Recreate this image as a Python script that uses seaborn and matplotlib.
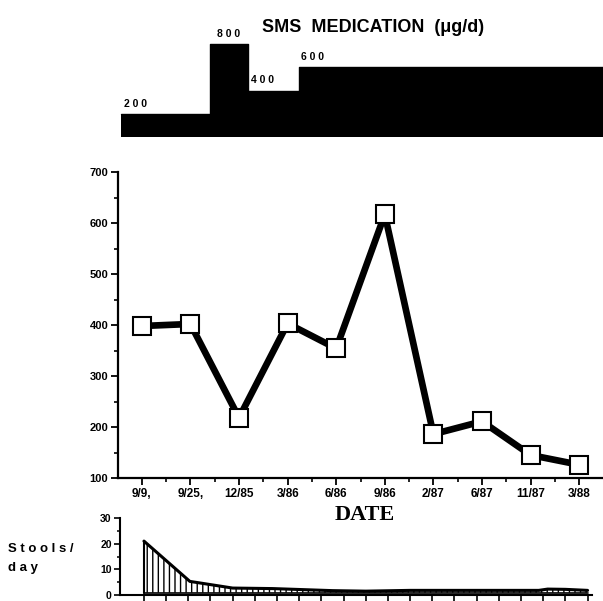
import numpy as np
import pandas as pd
import matplotlib
matplotlib.use("Agg")
import matplotlib.pyplot as plt
from matplotlib.ticker import MultipleLocator
import seaborn as sns

# ---------------- data ----------------
dates = ["9/9,", "9/25,", "12/85", "3/86", "6/86", "9/86", "2/87", "6/87", "11/87", "3/88"]
values = [398, 402, 218, 403, 354, 617, 186, 211, 145, 126]

# medication steps (edges in date-index units) and doses
med_edges = [-0.43, 1.40, 2.18, 3.23, 9.49]
med_doses = [200, 800, 400, 600]

# stools/day (x in tick units of lower axis)
stool_x = [0, 2.07, 4.0, 5.8, 8.5, 10.0, 12.0, 17.8, 18.2, 19.0, 20.0]
stool_y = [21, 5.3, 2.7, 2.5, 1.7, 1.5, 1.8, 1.8, 2.3, 2.2, 1.8]
stool_base = 0.9

sns.set_style("white")
plt.rcParams["font.family"] = ["Liberation Sans", "DejaVu Sans"]
plt.rcParams["hatch.linewidth"] = 1.0
for k in ["text.color", "axes.labelcolor", "xtick.color", "ytick.color", "axes.edgecolor"]:
    plt.rcParams[k] = "black"

W, H = 603, 601
fig = plt.figure(figsize=(W / 100, H / 100), dpi=100)

def ax_px(left, top, right, bottom):
    return fig.add_axes([left / W, 1 - bottom / H, (right - left) / W, (bottom - top) / H])

XLIM = (-0.49, 9.49)

# ---------------- medication panel ----------------
axm = ax_px(118, 21, 603, 137)
med_df = pd.DataFrame({"x": med_edges, "dose": med_doses + [med_doses[-1]]})
sns.lineplot(data=med_df, x="x", y="dose", drawstyle="steps-post", color="black", lw=1, ax=axm)
axm.fill_between(med_df["x"], 0, med_df["dose"], step="post", color="black", lw=0)
axm.set_xlim(XLIM)
axm.set_ylim(0, 1000)
axm.axis("off")
lab_pos = [(-0.36, 200), (1.55, 800), (2.25, 400), (3.27, 600)]
for (lx, ly), d in zip(lab_pos, med_doses):
    axm.text(lx, ly + 45, " ".join(str(d)), fontsize=7.5, fontweight="bold", ha="left",
             va="bottom", color="black")
fig.text(373 / W, 1 - 27 / H, "SMS  MEDICATION  (\u03bcg/d)", fontsize=13, fontweight="bold",
         ha="center", va="center", color="black")

# ---------------- main panel ----------------
ax = ax_px(118, 172, 603, 478)
df = pd.DataFrame({"x": np.arange(len(dates)), "val": values})
sns.lineplot(data=df, x="x", y="val", color="black", lw=4.8, marker="s", markersize=12.5,
             markerfacecolor="white", markeredgecolor="black", markeredgewidth=1.5, ax=ax)
ax.set_xlim(XLIM)
ax.set_ylim(100, 700)
ax.set_xticks(np.arange(len(dates)))
ax.set_xticklabels(dates, fontsize=8.5, fontweight="bold", color="black")
ax.xaxis.set_minor_locator(MultipleLocator(0.5))
ax.yaxis.set_major_locator(MultipleLocator(100))
ax.yaxis.set_minor_locator(MultipleLocator(50))
for lab in ax.get_yticklabels():
    lab.set_fontsize(8)
    lab.set_fontweight("bold")
    lab.set_color("black")
ax.tick_params(axis="both", which="major", direction="out", length=5, width=1.3, color="black",
               labelcolor="black", pad=2, bottom=True, left=True)
ax.tick_params(axis="both", which="minor", direction="out", length=3, width=1.2, color="black",
               bottom=True, left=True)
ax.set_xlabel("")
ax.set_ylabel("")
sns.despine(ax=ax)
for s in ["left", "bottom"]:
    ax.spines[s].set_linewidth(1.6)
    ax.spines[s].set_color("black")

fig.text(365 / W, 1 - 515 / H, "DATE", fontsize=16, fontweight="bold",
         family=["Liberation Serif", "DejaVu Serif"], ha="center", va="center", color="black")

# ---------------- stools panel ----------------
axs = ax_px(120, 518, 592, 595)
sdf = pd.DataFrame({"x": stool_x, "y": stool_y})
axs.fill_between(sdf["x"], stool_base, sdf["y"], facecolor="white", edgecolor="black",
                 hatch="|||", lw=0)
sns.lineplot(data=sdf, x="x", y="y", color="black", lw=2.2, ax=axs)
axs.plot([stool_x[0], stool_x[0]], [stool_base, stool_y[0]], color="black", lw=1.5)
axs.plot([stool_x[0], stool_x[-1]], [stool_base, stool_base], color="black", lw=1.2)
axs.set_xlim(-1.08, 20.2)
axs.set_ylim(0, 30)
axs.set_xticks(np.arange(0, 21))
axs.set_xticklabels([])
axs.yaxis.set_major_locator(MultipleLocator(10))
axs.yaxis.set_minor_locator(MultipleLocator(5))
for lab in axs.get_yticklabels():
    lab.set_fontsize(7.5)
    lab.set_fontweight("bold")
    lab.set_color("black")
axs.tick_params(axis="both", which="major", direction="out", length=4, width=1.2, color="black",
                labelcolor="black", pad=2, bottom=True, left=True)
axs.tick_params(axis="y", which="minor", direction="out", length=2.5, width=1.1, color="black", left=True)
axs.set_xlabel("")
axs.set_ylabel("")
sns.despine(ax=axs)
for s in ["left", "bottom"]:
    axs.spines[s].set_linewidth(1.5)
    axs.spines[s].set_color("black")

fig.text(8 / W, 1 - 549 / H, "S t o o l s /", fontsize=9.5, fontweight="bold", ha="left",
         va="center", color="black")
fig.text(8 / W, 1 - 568 / H, "d a y", fontsize=9.5, fontweight="bold", ha="left",
         va="center", color="black")

fig.savefig("out.png", dpi=100, facecolor="white")
